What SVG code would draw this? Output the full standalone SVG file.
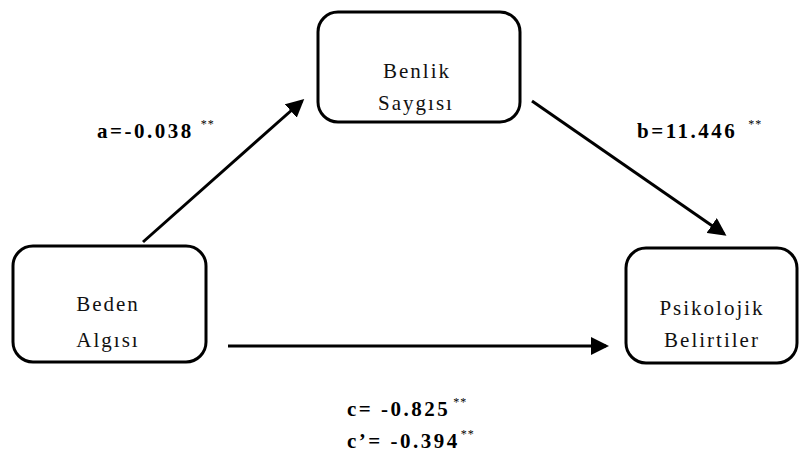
<svg xmlns="http://www.w3.org/2000/svg" width="810" height="457" viewBox="0 0 810 457">
<defs>
<style>
.box{fill:#fff;stroke:#000;stroke-width:3}
.c{stroke:#000;stroke-width:3;fill:none}
.n{font-family:'Liberation Serif','DejaVu Serif','Times New Roman',Times,serif;font-size:21px;fill:#111;text-anchor:middle;letter-spacing:2px}
.l{font-family:'Liberation Serif','DejaVu Serif','Times New Roman',Times,serif;font-size:21px;font-weight:bold;fill:#000;letter-spacing:2.5px}
.s{font-size:12px;font-weight:normal;letter-spacing:1px}
</style>
<marker id="ah" markerWidth="6" markerHeight="6" refX="5" refY="3" orient="auto" markerUnits="strokeWidth">
<path d="M0,0 L6,3 L0,6 z" fill="#000"/>
</marker>
</defs>
<rect width="810" height="457" fill="#fff"/>
<g id="benlik">
<rect class="box" x="318" y="12" width="202" height="110" rx="20"/>
<text class="n" x="417" y="78">Benlik</text>
<text class="n" x="416" y="110">Saygısı</text>
</g>
<g id="beden">
<rect class="box" x="13" y="246" width="193" height="116" rx="20"/>
<text class="n" x="108" y="311">Beden</text>
<text class="n" x="108" y="347">Algısı</text>
</g>
<g id="psikolojik">
<rect class="box" x="626" y="248" width="171" height="115" rx="20"/>
<text class="n" x="712" y="315">Psikolojik</text>
<text class="n" x="712" y="347">Belirtiler</text>
</g>
<g id="connectors">
<line class="c" x1="143" y1="242" x2="302" y2="101" marker-end="url(#ah)"/>
<line class="c" x1="532" y1="101" x2="724" y2="234" marker-end="url(#ah)"/>
<line class="c" x1="228" y1="346" x2="606" y2="346" marker-end="url(#ah)"/>
</g>
<g id="labels">
<text class="l" x="97" y="138">a=-0.038<tspan class="s" dx="7" dy="-10">**</tspan></text>
<text class="l" x="637" y="138">b=11.446<tspan class="s" dx="11" dy="-10">**</tspan></text>
<text class="l" x="347" y="416">c= -0.825<tspan class="s" dx="3" dy="-10">**</tspan></text>
<text class="l" x="347" y="448">c’= -0.394<tspan class="s" dx="1" dy="-10">**</tspan></text>
</g>
</svg>
